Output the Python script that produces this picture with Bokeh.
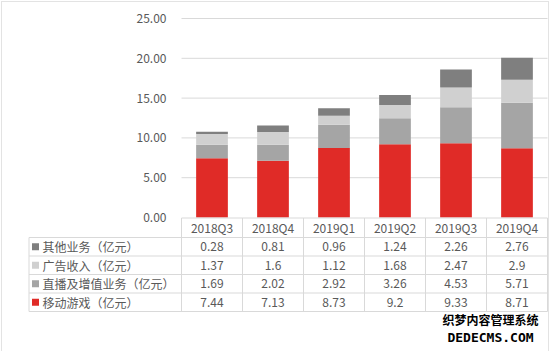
from bokeh.plotting import figure
from bokeh.models import Range1d, FixedTicker, NumeralTickFormatter, ColumnDataSource
from bokeh.embed import file_html
from bokeh.resources import INLINE
from bokeh.core.properties import value

# ---------------- data ----------------
categories = ["2018Q3", "2018Q4", "2019Q1", "2019Q2", "2019Q3", "2019Q4"]
mobile_games = [7.44, 7.13, 8.73, 9.2, 9.33, 8.71]
live_vas = [1.69, 2.02, 2.92, 3.26, 4.53, 5.71]
advertising = [1.37, 1.6, 1.12, 1.68, 2.47, 2.9]
other_biz = [0.28, 0.81, 0.96, 1.24, 2.26, 2.76]
name_other = "其他业务（亿元）"
name_ad = "广告收入（亿元）"
name_live = "直播及增值业务（亿元）"
name_game = "移动游戏（亿元）"
y_ticks = [0, 5, 10, 15, 20, 25]

# ---------------- style ----------------
C_GAME = "#E02B27"
C_LIVE = "#A5A5A5"
C_AD = "#D0D0D0"
C_OTHER = "#7F7F7F"
TXT = "#595959"
LINE = "#D9D9D9"
FONT = "Noto Sans CJK SC"

W, H = 550, 351
PX = 61.0                    # pixels per category column
XC0 = 181 + PX / 2           # pixel centre of first category
Y0PX = 217.0                 # pixel row of value 0
PPU = 199.0 / 25             # pixels per value unit

x0 = -XC0 / PX
x1 = x0 + W / PX
y1 = Y0PX / PPU
y0 = y1 - H / PPU

def xpx(px):
    return x0 + px / PX

def ypx(py):
    return (Y0PX - py) / PPU

n = len(categories)
xs = list(range(n))

src = ColumnDataSource(dict(x=xs, cat=categories, game=mobile_games, live=live_vas,
                            ad=advertising, other=other_biz))

p = figure(width=W, height=H, x_range=Range1d(x0, x1), y_range=Range1d(y0, y1),
           output_backend="svg", toolbar_location=None,
           min_border=0, min_border_left=0, min_border_right=0,
           min_border_top=0, min_border_bottom=0)
p.background_fill_color = None
p.border_fill_color = None
p.outline_line_color = None
p.xaxis.visible = False
p.grid.visible = False

# y axis drawn at the left edge of the category area
p.yaxis.fixed_location = -0.5
p.yaxis.ticker = FixedTicker(ticks=y_ticks)
p.yaxis.formatter = NumeralTickFormatter(format="0.00")
p.yaxis.axis_line_color = None
p.yaxis.major_tick_line_color = None
p.yaxis.minor_tick_line_color = None
p.yaxis.major_label_text_color = TXT
p.yaxis.major_label_text_font = FONT
p.yaxis.major_label_text_font_size = "12px"
p.yaxis.major_label_standoff = 9

# horizontal grid lines over the category area
gt = y_ticks[1:]
p.segment(x0=[-0.5] * len(gt), y0=gt, x1=[n - 0.5] * len(gt), y1=gt,
          line_color=LINE, line_width=1)

p.vbar_stack(["game", "live", "ad", "other"], x="x", width=0.52, source=src,
             color=[C_GAME, C_LIVE, C_AD, C_OTHER], line_color=None)

# ---------------- data table ----------------
row_px = [217.5, 237, 255.5, 274, 292.5, 311]
row_edges = [ypx(v) for v in row_px]
left = xpx(28.5)
col_edges = [i - 0.5 for i in range(n + 1)]

hx0 = [col_edges[0]] + [left] * 5
hx1 = [col_edges[-1]] * 6
p.segment(x0=hx0, y0=row_edges, x1=hx1, y1=row_edges, line_color=LINE, line_width=1)
vx = [left] + col_edges
vy0 = [row_edges[1]] + [row_edges[0]] * len(col_edges)
vy1 = [row_edges[-1]] * len(vx)
p.segment(x0=vx, y0=vy0, x1=vx, y1=vy1, line_color=LINE, line_width=1)

p.text(x=xs, y=[(row_edges[0] + row_edges[1]) / 2] * n, text=categories,
       text_align="center", text_baseline="middle", text_color=TXT,
       text_font=value(FONT), text_font_size="12px")

rows = [(name_other, other_biz, C_OTHER), (name_ad, advertising, C_AD),
        (name_live, live_vas, C_LIVE), (name_game, mobile_games, C_GAME)]
for r, (name, vals, col) in enumerate(rows):
    yc = (row_edges[r + 1] + row_edges[r + 2]) / 2
    p.text(x=xs, y=[yc] * n, text=[f"{v:g}" for v in vals],
           text_align="center", text_baseline="middle", text_color=TXT,
           text_font=value(FONT), text_font_size="12px")
    p.scatter(x=[xpx(35)], y=[yc], marker="square", size=7, color=col, line_color=None)
    p.text(x=[xpx(42)], y=[yc], text=[name], text_align="left", text_baseline="middle",
           text_color=TXT, text_font=value(FONT), text_font_size="12px")

# watermark
p.text(x=[xpx(490)], y=[ypx(319)], text=["织梦内容管理系统"], text_align="center",
       text_baseline="middle", text_color="black", text_font=value(FONT),
       text_font_size="12px", text_font_style="bold")
p.text(x=[xpx(490)], y=[ypx(337)], text=["DEDECMS.COM"], text_align="center",
       text_baseline="middle", text_color="black", text_font=value("DejaVu Sans Mono"),
       text_font_size="13px", text_font_style="bold")

p.styles = {"box-shadow": "inset 1px 1px 0 #ffffff, inset -1px 0 0 #ffffff, "
                          "inset 2px 2px 0 #E3E3E3, inset -2px 0 0 #E3E3E3",
            "background": "#ffffff"}

open("out.html", "w").write(file_html(p, INLINE))
